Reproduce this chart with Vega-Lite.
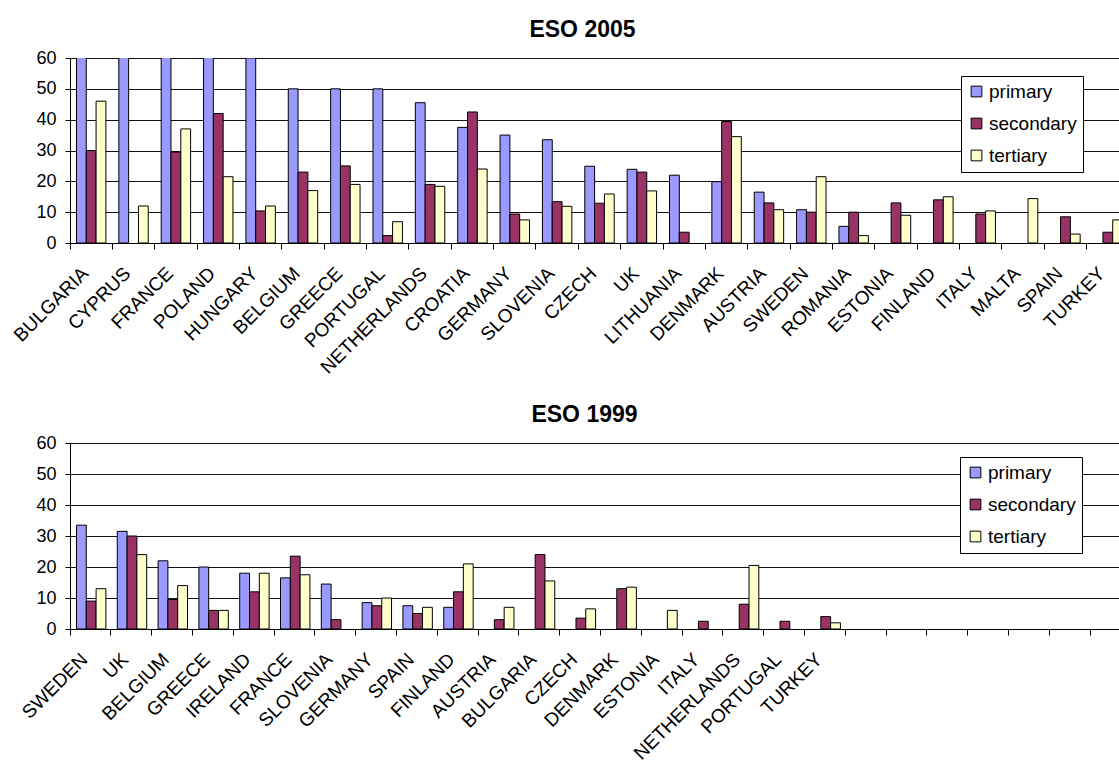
{
  "$schema": "https://vega.github.io/schema/vega-lite/v6.json",
  "padding": {"left": 10, "top": 19, "right": 0, "bottom": 0},
  "background": "white",
  "bounds": "flush",
  "spacing": 200,
  "config": {
    "font": "Liberation Sans",
    "view": {"stroke": null},
    "title": {"fontSize": 23, "fontWeight": "bold", "color": "black", "anchor": "middle"},
    "axis": {
      "labelFont": "Liberation Sans",
      "labelFontSize": 18,
      "labelColor": "black",
      "domainColor": "black",
      "tickColor": "black",
      "gridColor": "#111111",
      "title": null
    },
    "legend": {
      "orient": "none",
      "title": null,
      "strokeColor": "black",
      "fillColor": "white",
      "padding": 6,
      "symbolType": "square",
      "symbolSize": 115,
      "symbolStrokeColor": "black",
      "symbolStrokeWidth": 1,
      "labelFontSize": 19,
      "labelColor": "black",
      "rowPadding": 12,
      "labelOffset": 3
    }
  },
  "datasets": {
    "eso2005": [
      {"country": "BULGARIA", "level": "primary", "value": 65},
      {"country": "BULGARIA", "level": "secondary", "value": 30},
      {"country": "BULGARIA", "level": "tertiary", "value": 46},
      {"country": "CYPRUS", "level": "primary", "value": 65},
      {"country": "CYPRUS", "level": "tertiary", "value": 12},
      {"country": "FRANCE", "level": "primary", "value": 65},
      {"country": "FRANCE", "level": "secondary", "value": 29.5},
      {"country": "FRANCE", "level": "tertiary", "value": 37},
      {"country": "POLAND", "level": "primary", "value": 65},
      {"country": "POLAND", "level": "secondary", "value": 42},
      {"country": "POLAND", "level": "tertiary", "value": 21.5},
      {"country": "HUNGARY", "level": "primary", "value": 60},
      {"country": "HUNGARY", "level": "secondary", "value": 10.4},
      {"country": "HUNGARY", "level": "tertiary", "value": 12},
      {"country": "BELGIUM", "level": "primary", "value": 50},
      {"country": "BELGIUM", "level": "secondary", "value": 23},
      {"country": "BELGIUM", "level": "tertiary", "value": 17},
      {"country": "GREECE", "level": "primary", "value": 50},
      {"country": "GREECE", "level": "secondary", "value": 25},
      {"country": "GREECE", "level": "tertiary", "value": 19},
      {"country": "PORTUGAL", "level": "primary", "value": 50},
      {"country": "PORTUGAL", "level": "secondary", "value": 2.4},
      {"country": "PORTUGAL", "level": "tertiary", "value": 6.9},
      {"country": "NETHERLANDS", "level": "primary", "value": 45.5},
      {"country": "NETHERLANDS", "level": "secondary", "value": 19},
      {"country": "NETHERLANDS", "level": "tertiary", "value": 18.4},
      {"country": "CROATIA", "level": "primary", "value": 37.5},
      {"country": "CROATIA", "level": "secondary", "value": 42.5},
      {"country": "CROATIA", "level": "tertiary", "value": 24},
      {"country": "GERMANY", "level": "primary", "value": 35},
      {"country": "GERMANY", "level": "secondary", "value": 9.4},
      {"country": "GERMANY", "level": "tertiary", "value": 7.5},
      {"country": "SLOVENIA", "level": "primary", "value": 33.5},
      {"country": "SLOVENIA", "level": "secondary", "value": 13.4},
      {"country": "SLOVENIA", "level": "tertiary", "value": 11.9},
      {"country": "CZECH", "level": "primary", "value": 24.9},
      {"country": "CZECH", "level": "secondary", "value": 12.9},
      {"country": "CZECH", "level": "tertiary", "value": 15.9},
      {"country": "UK", "level": "primary", "value": 23.9},
      {"country": "UK", "level": "secondary", "value": 23},
      {"country": "UK", "level": "tertiary", "value": 16.9},
      {"country": "LITHUANIA", "level": "primary", "value": 22},
      {"country": "LITHUANIA", "level": "secondary", "value": 3.5},
      {"country": "DENMARK", "level": "primary", "value": 19.9},
      {"country": "DENMARK", "level": "secondary", "value": 39.4},
      {"country": "DENMARK", "level": "tertiary", "value": 34.5},
      {"country": "AUSTRIA", "level": "primary", "value": 16.5},
      {"country": "AUSTRIA", "level": "secondary", "value": 13},
      {"country": "AUSTRIA", "level": "tertiary", "value": 10.8},
      {"country": "SWEDEN", "level": "primary", "value": 10.8},
      {"country": "SWEDEN", "level": "secondary", "value": 10},
      {"country": "SWEDEN", "level": "tertiary", "value": 21.5},
      {"country": "ROMANIA", "level": "primary", "value": 5.4},
      {"country": "ROMANIA", "level": "secondary", "value": 10},
      {"country": "ROMANIA", "level": "tertiary", "value": 2.4},
      {"country": "ESTONIA", "level": "secondary", "value": 13},
      {"country": "ESTONIA", "level": "tertiary", "value": 9},
      {"country": "FINLAND", "level": "secondary", "value": 14},
      {"country": "FINLAND", "level": "tertiary", "value": 15},
      {"country": "ITALY", "level": "secondary", "value": 9.4},
      {"country": "ITALY", "level": "tertiary", "value": 10.4},
      {"country": "MALTA", "level": "tertiary", "value": 14.4},
      {"country": "SPAIN", "level": "secondary", "value": 8.5},
      {"country": "SPAIN", "level": "tertiary", "value": 2.9},
      {"country": "TURKEY", "level": "secondary", "value": 3.5},
      {"country": "TURKEY", "level": "tertiary", "value": 7.5}
    ],
    "eso1999": [
      {"country": "SWEDEN", "level": "primary", "value": 33.5},
      {"country": "SWEDEN", "level": "secondary", "value": 9},
      {"country": "SWEDEN", "level": "tertiary", "value": 13},
      {"country": "UK", "level": "primary", "value": 31.5},
      {"country": "UK", "level": "secondary", "value": 30},
      {"country": "UK", "level": "tertiary", "value": 24},
      {"country": "BELGIUM", "level": "primary", "value": 22},
      {"country": "BELGIUM", "level": "secondary", "value": 9.5},
      {"country": "BELGIUM", "level": "tertiary", "value": 14},
      {"country": "GREECE", "level": "primary", "value": 20},
      {"country": "GREECE", "level": "secondary", "value": 6},
      {"country": "GREECE", "level": "tertiary", "value": 6},
      {"country": "IRELAND", "level": "primary", "value": 18},
      {"country": "IRELAND", "level": "secondary", "value": 12},
      {"country": "IRELAND", "level": "tertiary", "value": 18},
      {"country": "FRANCE", "level": "primary", "value": 16.5},
      {"country": "FRANCE", "level": "secondary", "value": 23.5},
      {"country": "FRANCE", "level": "tertiary", "value": 17.5},
      {"country": "SLOVENIA", "level": "primary", "value": 14.5},
      {"country": "SLOVENIA", "level": "secondary", "value": 3},
      {"country": "GERMANY", "level": "primary", "value": 8.5},
      {"country": "GERMANY", "level": "secondary", "value": 7.5},
      {"country": "GERMANY", "level": "tertiary", "value": 10},
      {"country": "SPAIN", "level": "primary", "value": 7.5},
      {"country": "SPAIN", "level": "secondary", "value": 5},
      {"country": "SPAIN", "level": "tertiary", "value": 7},
      {"country": "FINLAND", "level": "primary", "value": 7},
      {"country": "FINLAND", "level": "secondary", "value": 12},
      {"country": "FINLAND", "level": "tertiary", "value": 21},
      {"country": "AUSTRIA", "level": "secondary", "value": 3},
      {"country": "AUSTRIA", "level": "tertiary", "value": 7},
      {"country": "BULGARIA", "level": "secondary", "value": 24},
      {"country": "BULGARIA", "level": "tertiary", "value": 15.5},
      {"country": "CZECH", "level": "secondary", "value": 3.5},
      {"country": "CZECH", "level": "tertiary", "value": 6.5},
      {"country": "DENMARK", "level": "secondary", "value": 13},
      {"country": "DENMARK", "level": "tertiary", "value": 13.5},
      {"country": "ESTONIA", "level": "tertiary", "value": 6},
      {"country": "ITALY", "level": "secondary", "value": 2.5},
      {"country": "NETHERLANDS", "level": "secondary", "value": 8},
      {"country": "NETHERLANDS", "level": "tertiary", "value": 20.5},
      {"country": "PORTUGAL", "level": "secondary", "value": 2.5},
      {"country": "TURKEY", "level": "secondary", "value": 4},
      {"country": "TURKEY", "level": "tertiary", "value": 2}
    ]
  },
  "resolve": {"scale": {"x": "independent"}, "legend": {"color": "independent"}},
  "vconcat": [
    {
      "title": {"text": "ESO 2005", "offset": 7, "dx": -17},
      "width": 1059,
      "height": 185,
      "data": {"name": "eso2005"},
      "mark": {"type": "bar", "stroke": "black", "strokeWidth": 1, "clip": true},
      "encoding": {
        "x": {
          "field": "country",
          "type": "nominal",
          "sort": null,
          "scale": {
            "domain": ["BULGARIA", "CYPRUS", "FRANCE", "POLAND", "HUNGARY", "BELGIUM", "GREECE", "PORTUGAL", "NETHERLANDS", "CROATIA", "GERMANY", "SLOVENIA", "CZECH", "UK", "LITHUANIA", "DENMARK", "AUSTRIA", "SWEDEN", "ROMANIA", "ESTONIA", "FINLAND", "ITALY", "MALTA", "SPAIN", "TURKEY"],
            "paddingInner": 0,
            "paddingOuter": 0
          },
          "axis": {"labelAngle": -45, "labelAlign": "right", "labelBaseline": "middle", "labelFontSize": 19, "bandPosition": 0, "labelOffset": -6, "tickSize": 6, "labelPadding": 21, "grid": false}
        },
        "xOffset": {"field": "level", "type": "nominal", "scale": {"domain": ["primary", "secondary", "tertiary"], "paddingInner": 0, "paddingOuter": 0.66}},
        "y": {
          "field": "value",
          "type": "quantitative",
          "scale": {"domain": [0, 60], "nice": false},
          "axis": {"values": [0, 10, 20, 30, 40, 50, 60], "grid": true, "tickSize": 5, "labelPadding": 9}
        },
        "color": {
          "field": "level",
          "type": "nominal",
          "scale": {"domain": ["primary", "secondary", "tertiary"], "range": ["#9999FF", "#993366", "#FFFFCC"]},
          "legend": {"legendX": 891, "legendY": 18}
        }
      }
    },
    {
      "title": {"text": "ESO 1999", "offset": 7, "dx": -16},
      "width": 1061,
      "height": 186,
      "data": {"name": "eso1999"},
      "mark": {"type": "bar", "stroke": "black", "strokeWidth": 1, "clip": true},
      "encoding": {
        "x": {
          "field": "country",
          "type": "nominal",
          "sort": null,
          "scale": {
            "domain": ["SWEDEN", "UK", "BELGIUM", "GREECE", "IRELAND", "FRANCE", "SLOVENIA", "GERMANY", "SPAIN", "FINLAND", "AUSTRIA", "BULGARIA", "CZECH", "DENMARK", "ESTONIA", "ITALY", "NETHERLANDS", "PORTUGAL", "TURKEY", "_1", "_2", "_3", "_4", "_5", "_6", "_7"],
            "paddingInner": 0,
            "paddingOuter": 0
          },
          "axis": {"labelAngle": -45, "labelAlign": "right", "labelBaseline": "middle", "labelFontSize": 19, "bandPosition": 0, "labelOffset": -6, "tickSize": 6, "labelPadding": 21, "grid": false, "labelExpr": "indexof(datum.label, '_') == 0 ? '' : datum.label"}
        },
        "xOffset": {"field": "level", "type": "nominal", "scale": {"domain": ["primary", "secondary", "tertiary"], "paddingInner": 0, "paddingOuter": 0.66}},
        "y": {
          "field": "value",
          "type": "quantitative",
          "scale": {"domain": [0, 60], "nice": false},
          "axis": {"values": [0, 10, 20, 30, 40, 50, 60], "grid": true, "tickSize": 5, "labelPadding": 9}
        },
        "color": {
          "field": "level",
          "type": "nominal",
          "scale": {"domain": ["primary", "secondary", "tertiary"], "range": ["#9999FF", "#993366", "#FFFFCC"]},
          "legend": {"legendX": 890, "legendY": 14}
        }
      }
    }
  ]
}
